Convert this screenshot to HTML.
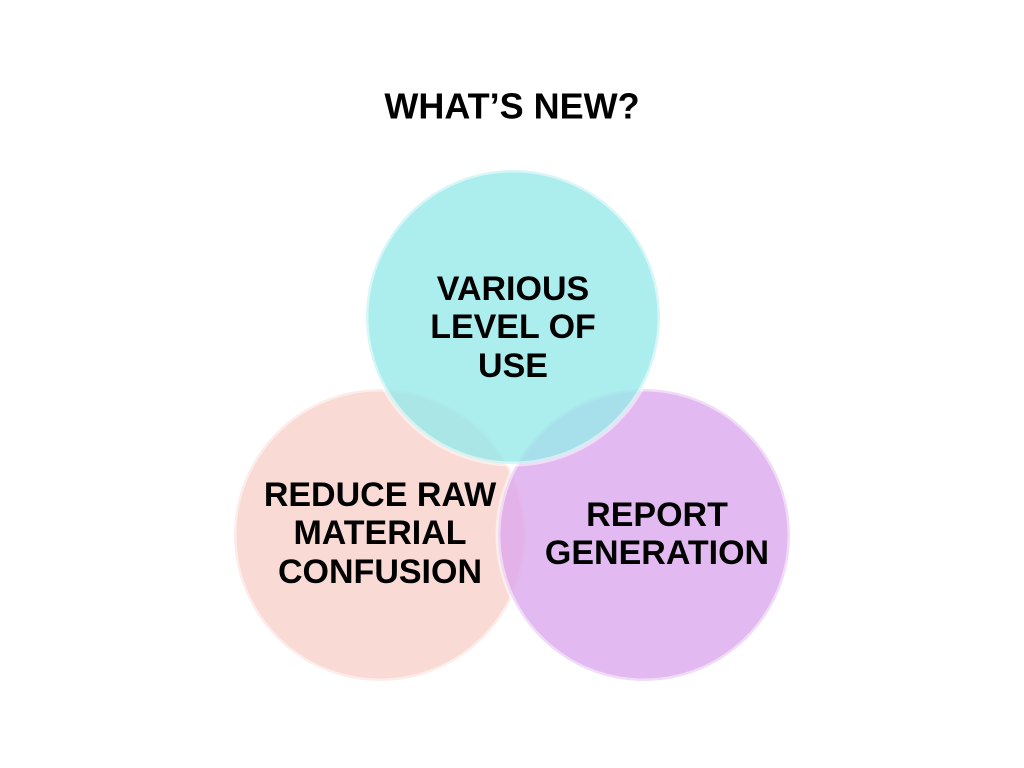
<!DOCTYPE html>
<html><head><meta charset="utf-8"><style>
html,body{margin:0;padding:0;background:#fff;width:1024px;height:768px;overflow:hidden}
svg{display:block}
text{font-family:"Liberation Sans",sans-serif;font-weight:bold;fill:#000;text-anchor:middle;dominant-baseline:central}
</style></head><body>
<svg width="1024" height="768">
<text x="512" y="106" font-size="36">WHAT’S NEW?</text>
<circle cx="380" cy="535" r="146" fill="#f8d3ce" fill-opacity="0.85" stroke="#fff" stroke-opacity="0.5" stroke-width="5"/>
<circle cx="644" cy="535" r="146" fill="#dca7ee" fill-opacity="0.8" stroke="#fff" stroke-opacity="0.5" stroke-width="5"/>
<circle cx="513" cy="317" r="147" fill="#97e8ea" fill-opacity="0.8" stroke="#fff" stroke-opacity="0.5" stroke-width="5"/>
<g font-size="34">
<text x="513" y="289">VARIOUS</text>
<text x="513" y="327">LEVEL OF</text>
<text x="513" y="366">USE</text>
</g>
<g font-size="34">
<text x="380" y="495">REDUCE RAW</text>
<text x="380" y="533">MATERIAL</text>
<text x="380" y="572">CONFUSION</text>
</g>
<g font-size="34">
<text x="657" y="515">REPORT</text>
<text x="657" y="553">GENERATION</text>
</g>
</svg>
</body></html>
